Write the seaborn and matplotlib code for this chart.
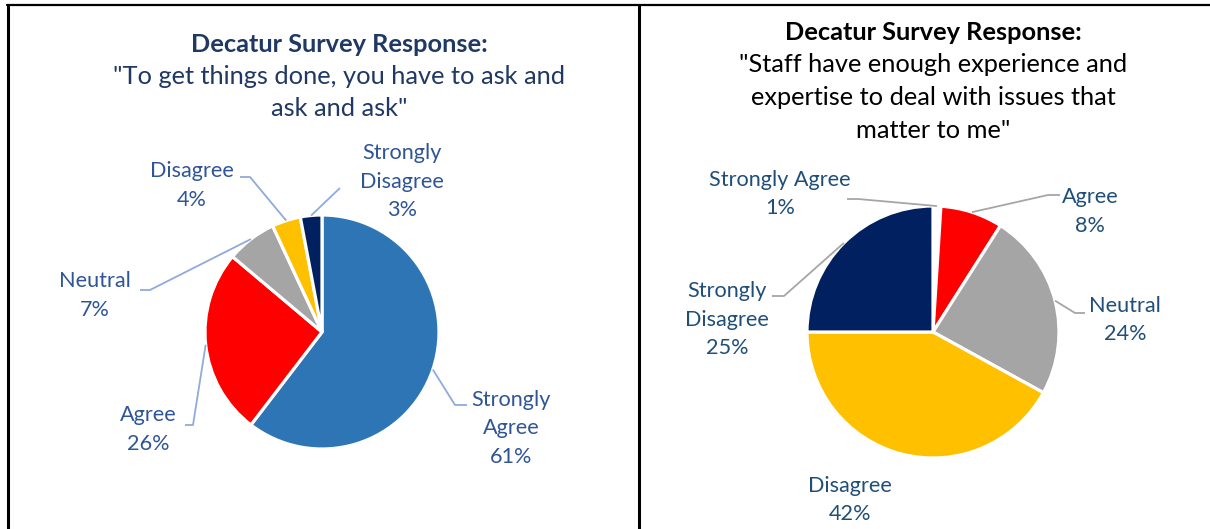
import numpy as np
import matplotlib
matplotlib.use("Agg")
import matplotlib.pyplot as plt
import seaborn as sns

sns.set_theme(style="white")
plt.rcParams["font.family"] = ["Lato", "DejaVu Sans"]

# Survey 1: "To get things done, you have to ask and ask and ask"
ask_labels = ["Strongly\nAgree", "Agree", "Neutral", "Disagree", "Strongly\nDisagree"]
ask_values = [61, 26, 7, 4, 3]

# Survey 2: "Staff have enough experience and expertise ..."
staff_labels = ["Strongly Agree", "Agree", "Neutral", "Disagree", "Strongly\nDisagree"]
staff_values = [1, 8, 24, 42, 25]

ask_colors = sns.color_palette(["#2E75B6", "#FF0000", "#A5A5A5", "#FFC000", "#002060"])
staff_colors = sns.color_palette(["#FFFFFF", "#FF0000", "#A5A5A5", "#FFC000", "#002060"])

W, H = 1210, 529
fig = plt.figure(figsize=(W / 100, H / 100), dpi=100)
ax = fig.add_axes([0, 0, 1, 1])

LABEL_STEP = 28.5


def py(y):
    # convert top-down pixel row to axis y
    return H - y


def stacked_text(x, y_first, lines, step, **kw):
    for i, line in enumerate(lines):
        ax.text(x, py(y_first + i * step), line, ha="center", va="center", **kw)


def draw_pie(values, labels, colors, center, radius, text_color, line_color, label_pos):
    wedges, _ = ax.pie(values, colors=colors, startangle=90, counterclock=False,
                       center=(center[0], py(center[1])), radius=radius,
                       wedgeprops=dict(edgecolor="white", linewidth=2.3))
    for w, lab, v, lp in zip(wedges, labels, values, label_pos):
        (tx, ty), elbow = lp
        stacked_text(tx, ty, lab.split("\n") + [f"{v}%"], LABEL_STEP,
                     fontsize=15.6, color=text_color)
        if elbow is None:
            continue
        mid = np.deg2rad((w.theta1 + w.theta2) / 2)
        wx = w.center[0] + w.r * np.cos(mid)
        wy = w.center[1] + w.r * np.sin(mid)
        (ex, ey), (hx, hy) = elbow
        ax.plot([hx, ex, wx], [py(hy), py(ey), wy], color=line_color, lw=1.3,
                solid_capstyle="butt")


# first label line centre and leader-line elbows (elbow corner, horizontal end)
ask_layout = [
    ((511, 400), ((455, 405), (467, 405))),
    ((148, 415), ((193, 425), (185, 425))),
    ((95, 281), ((150, 290), (140, 290))),
    ((192, 171), ((250, 177), (240, 177))),
    ((402, 153), ((340, 188), (340, 188))),
]
staff_layout = [
    ((780, 180), ((858, 199), (847, 199))),
    ((1090, 197), ((1048, 195), (1060, 195))),
    ((1125, 306), ((1075, 313), (1085, 313))),
    ((850, 486), None),
    ((727, 291), ((784, 296), (772, 296))),
]

draw_pie(ask_values, ask_labels, ask_colors, (322, 332), 117, "#2F5597", "#8FAADC", ask_layout)
draw_pie(staff_values, staff_labels, staff_colors, (933, 332), 126, "#1F4E79", "#A6A6A6", staff_layout)

ax.set_xlim(0, W)
ax.set_ylim(0, H)
ax.set_aspect("equal")
ax.axis("off")

# titles
TITLE_SIZE = 18.3
ax.text(339, py(44), "Decatur Survey Response:", ha="center", va="center",
        fontsize=TITLE_SIZE, fontweight="bold", color="#1F3864")
stacked_text(339, 77, ["\"To get things done, you have to ask and", "ask and ask\""], 31,
             fontsize=TITLE_SIZE, color="#1F3864")
ax.text(933, py(32), "Decatur Survey Response:", ha="center", va="center",
        fontsize=TITLE_SIZE, fontweight="bold", color="black")
stacked_text(933, 65, ["\"Staff have enough experience and",
                       "expertise to deal with issues that",
                       "matter to me\""], 32.5,
             fontsize=TITLE_SIZE, color="black")

# panel frame
ax.plot([7, W], [py(5), py(5)], color="black", lw=1.6, clip_on=False)
ax.plot([7.5, 7.5], [py(5), 0], color="black", lw=2.2, clip_on=False)
ax.plot([638.5, 638.5], [py(5), 0], color="black", lw=2.2, clip_on=False)

fig.savefig("out.png", dpi=100, facecolor="white")
